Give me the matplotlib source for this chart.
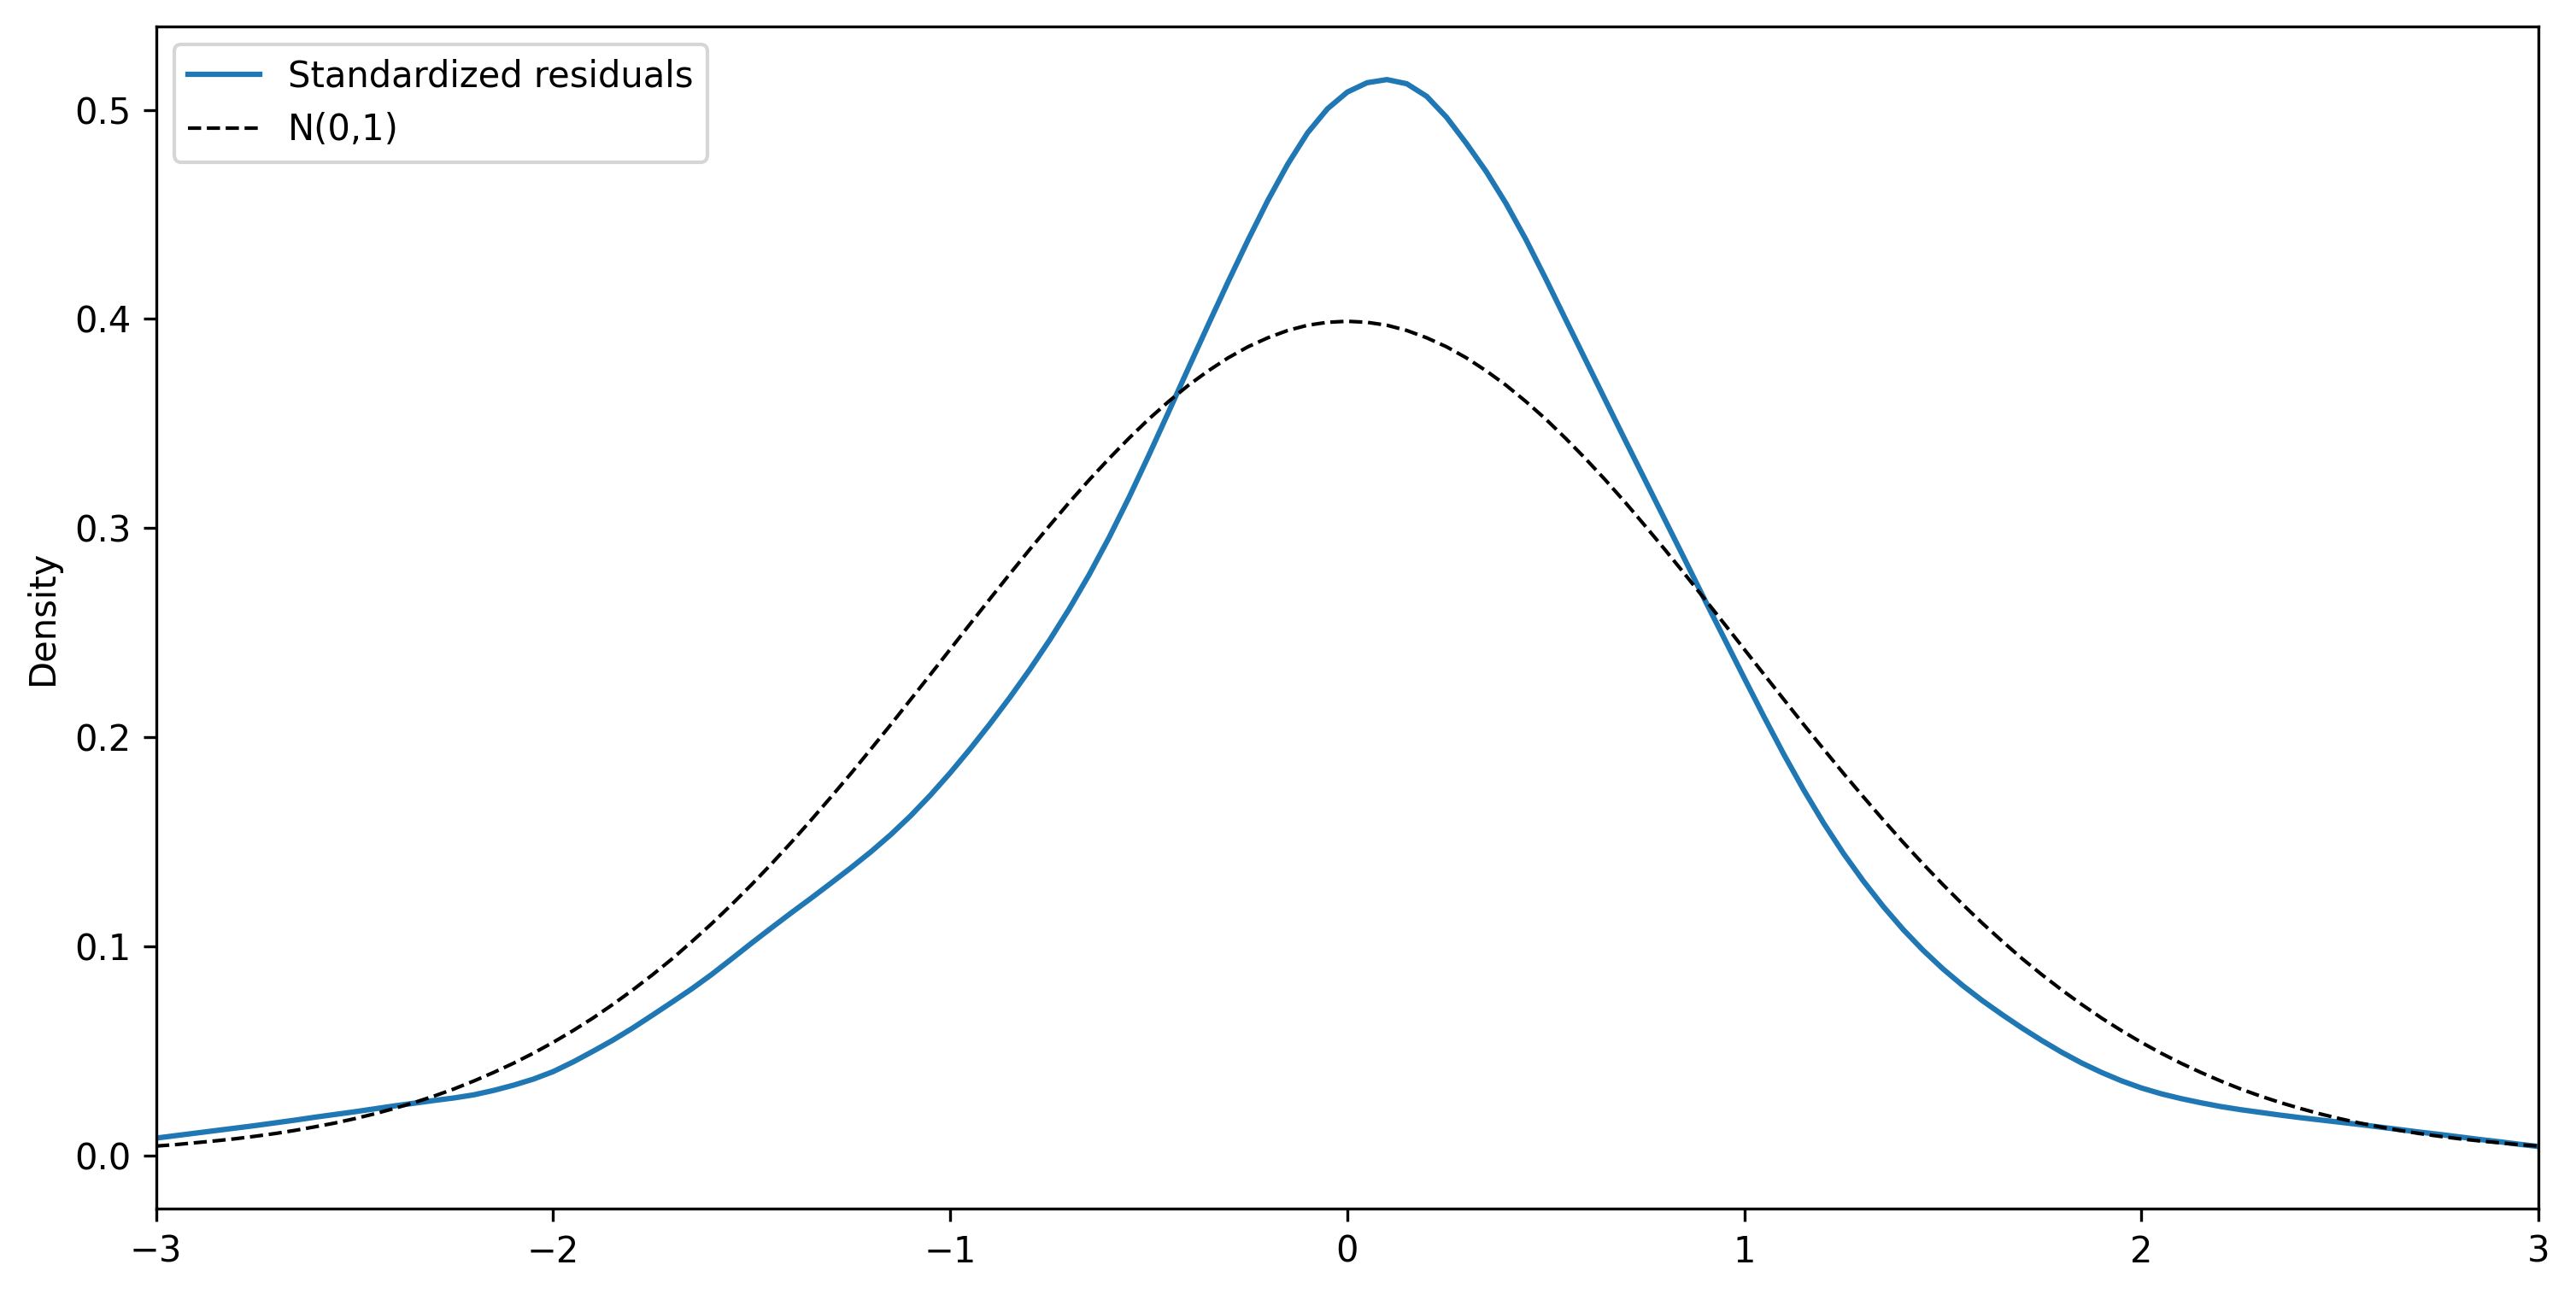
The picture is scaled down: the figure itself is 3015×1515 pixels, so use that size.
import numpy as np
import matplotlib.pyplot as plt

# grid of x values (step 0.05 from -3 to 3)
x = np.round(np.arange(-60, 61) / 20, 2)

# KDE of standardized residuals
resid_density = [
    # -3.00 .. -2.05
    0.0082, 0.0094, 0.0106, 0.0118, 0.0130, 0.0142, 0.0155, 0.0168, 0.0182, 0.0195,
    0.0208, 0.0222, 0.0236, 0.0249, 0.0262, 0.0274, 0.0289, 0.0310, 0.0335, 0.0364,
    # -2.00 .. -1.05
    0.0400, 0.0446, 0.0497, 0.0550, 0.0608, 0.0670, 0.0733, 0.0797, 0.0866, 0.0940,
    0.1015, 0.1088, 0.1160, 0.1230, 0.1302, 0.1375, 0.1451, 0.1533, 0.1623, 0.1722,
    # -1.00 .. -0.05
    0.1829, 0.1943, 0.2063, 0.2189, 0.2322, 0.2463, 0.2614, 0.2777, 0.2954, 0.3145,
    0.3347, 0.3555, 0.3765, 0.3973, 0.4178, 0.4377, 0.4567, 0.4740, 0.4890, 0.5005,
    # 0.00 .. 0.95
    0.5085, 0.5130, 0.5145, 0.5125, 0.5065, 0.4965, 0.4840, 0.4705, 0.4552, 0.4380,
    0.4192, 0.3998, 0.3805, 0.3612, 0.3420, 0.3230, 0.3040, 0.2850, 0.2658, 0.2470,
    # 1.00 .. 1.95
    0.2282, 0.2096, 0.1916, 0.1746, 0.1588, 0.1443, 0.1311, 0.1190, 0.1080, 0.0981,
    0.0892, 0.0812, 0.0739, 0.0672, 0.0608, 0.0548, 0.0492, 0.0441, 0.0396, 0.0356,
    # 2.00 .. 3.00
    0.0322, 0.0294, 0.0271, 0.0251, 0.0233, 0.0218, 0.0205, 0.0192, 0.0180, 0.0169,
    0.0158, 0.0147, 0.0135, 0.0123, 0.0111, 0.0100, 0.0088, 0.0076, 0.0065, 0.0053,
    0.0042,
]

# N(0,1) reference density, 0.00 .. 3.00 (mirrored for the left half)
half = [0.3989, 0.3984, 0.3970, 0.3945, 0.3910, 0.3867, 0.3814, 0.3752, 0.3683, 0.3605,
        0.3521, 0.3429, 0.3332, 0.3230, 0.3123, 0.3011, 0.2897, 0.2780, 0.2661, 0.2541,
        0.2420, 0.2299, 0.2179, 0.2059, 0.1942, 0.1826, 0.1714, 0.1604, 0.1497, 0.1394,
        0.1295, 0.1200, 0.1109, 0.1023, 0.0940, 0.0863, 0.0790, 0.0721, 0.0656, 0.0596,
        0.0540, 0.0488, 0.0440, 0.0396, 0.0355, 0.0317, 0.0283, 0.0252, 0.0224, 0.0198,
        0.0175, 0.0154, 0.0136, 0.0119, 0.0104, 0.0091, 0.0079, 0.0069, 0.0060, 0.0051,
        0.0044]
normal_density = half[::-1] + half[1:]

fig, ax = plt.subplots(figsize=(10.05, 5.05), dpi=300)
fig.subplots_adjust(left=0.0606, right=0.9854, top=0.9797, bottom=0.0657)

ax.plot(x, resid_density, label="Standardized residuals")
ax.plot(x, normal_density, "k--", lw=1, label="N(0,1)")

ax.set_xlim(-3, 3)
ax.set_ylim(-0.0257, 0.540)
ax.set_ylabel("Density")
ax.legend(loc="upper left")

plt.savefig("out.png")
